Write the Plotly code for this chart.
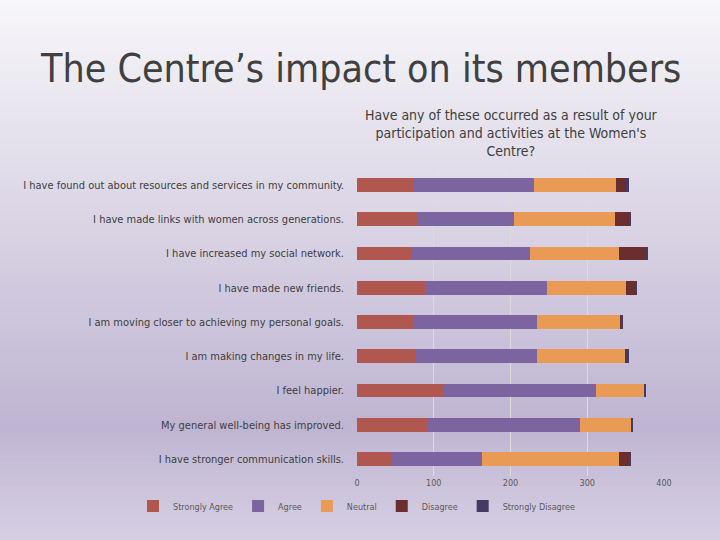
import plotly.graph_objects as go

statements = [
    "I have found out about resources and services in my community.",
    "I have made links with women across generations.",
    "I have increased my social network.",
    "I have made new friends.",
    "I am moving closer to achieving my personal goals.",
    "I am making changes in my life.",
    "I feel happier.",
    "My general well-being has improved.",
    "I have stronger communication skills.",
]

strongly_agree = [74, 79, 72, 89, 74, 75, 113, 91, 45]
agree = [156, 126, 154, 159, 161, 160, 199, 200, 118]
neutral = [108, 131, 116, 102, 108, 115, 63, 67, 179]
disagree = [13, 18, 35, 13, 2, 1, 0, 0, 12]
strongly_disagree = [4, 3, 1, 1, 1, 3, 1, 1, 3]

series = [
    ("Strongly Agree", strongly_agree, "#b05750"),
    ("Agree", agree, "#7b64a0"),
    ("Neutral", neutral, "#e99b55"),
    ("Disagree", disagree, "#6b2d2d"),
    ("Strongly Disagree", strongly_disagree, "#453a62"),
]

FONT = "DejaVu Sans Condensed, Open Sans, sans-serif"
W, H = 720, 540
L, R, T, B = 357, 56, 168, 64
PW, PH = W - L - R, H - T - B

fig = go.Figure()
for name, vals, color in series:
    fig.add_trace(go.Bar(
        y=statements,
        x=vals,
        name=name,
        orientation="h",
        marker_color=color,
        marker_line_width=0,
        width=0.4,
    ))


# slide background: lavender gradient, lightest at top, darkest a bit above the bottom
def bg_color(py):
    stops = [(0, (248, 247, 250)), (425, (191, 181, 210)), (540, (215, 208, 227))]
    for (a, ca), (b, cb) in zip(stops, stops[1:]):
        if py <= b:
            t = (py - a) / (b - a)
            return tuple(int(ca[k] + (cb[k] - ca[k]) * t) for k in range(3))
    return stops[-1][1]


shapes = []
step = 6
for py in range(0, H, step):
    c = bg_color(py + step / 2)
    shapes.append(dict(
        type="rect", xref="paper", yref="paper", layer="below",
        x0=-L / PW, x1=(W - L) / PW,
        y0=(H - B - py - step - 1) / PH, y1=(H - B - py) / PH,
        fillcolor="rgb(%d,%d,%d)" % c, line_width=0,
    ))

fig.update_layout(
    width=W,
    height=H,
    barmode="stack",
    paper_bgcolor="#c4bad5",
    plot_bgcolor="rgba(0,0,0,0)",
    margin=dict(l=L, r=R, t=T, b=B, autoexpand=False),
    font=dict(family=FONT, color="#404040"),
    shapes=shapes,
    showlegend=True,
    legend=dict(
        orientation="h", x=(133 - L) / PW, xanchor="left",
        y=-(506 - (H - B)) / PH, yanchor="middle",
        bgcolor="rgba(0,0,0,0)",
        font=dict(size=9, color="#595959"), traceorder="normal",
        itemwidth=30,
    ),
    xaxis=dict(
        range=[0, 400], tickvals=[0, 100, 200, 300, 400],
        showgrid=True, gridcolor="#dcdcdc", gridwidth=1,
        zeroline=False, showline=False, automargin=False,
        tickfont=dict(size=9, color="#595959"),
    ),
    yaxis=dict(
        autorange="reversed", showgrid=False, automargin=False,
        tickfont=dict(size=11, color="#404040"), ticklabelstandoff=12,
    ),
    annotations=[
        dict(text="The Centre’s impact on its members", xref="paper", yref="paper",
             x=(360 - L) / PW, y=(H - B - 68) / PH, xanchor="center", yanchor="middle",
             showarrow=False, font=dict(size=39, color="#404040", family=FONT)),
        dict(text="Have any of these occurred as a result of your<br>participation and activities at the Women's<br>Centre?",
             xref="paper", yref="paper", x=(511 - L) / PW, y=(H - B - 133) / PH,
             xanchor="center", yanchor="middle", showarrow=False,
             font=dict(size=14, color="#404040", family=FONT)),
    ],
)

fig.write_html("out.html", config={"displayModeBar": False},
               post_script="document.body.style.margin='0';")
